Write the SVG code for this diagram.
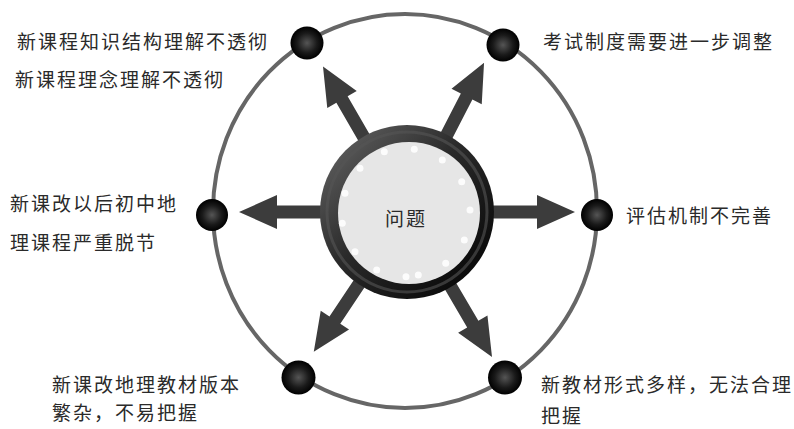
<svg xmlns="http://www.w3.org/2000/svg" width="794" height="429" viewBox="0 0 794 429">
<defs>
<radialGradient id="ball" cx="0.5" cy="0.5" r="0.5">
<stop offset="0" stop-color="#555"/>
<stop offset="0.6" stop-color="#1a1a1a"/>
<stop offset="1" stop-color="#000"/>
</radialGradient>
<linearGradient id="ring" x1="0" y1="0" x2="1" y2="1">
<stop offset="0" stop-color="#6a6a6a"/>
<stop offset="0.45" stop-color="#2a2a2a"/>
<stop offset="1" stop-color="#000"/>
</linearGradient>
<polygon id="arr" points="78,-6.5 130,-6.5 130,-17 168,0 130,17 130,6.5 78,6.5"/>
</defs>
<style>
.t{font-family:"Noto Sans CJK SC","Noto Sans CJK TC",sans-serif;font-size:19px;fill:#2a2a2a;letter-spacing:2px}
.node{fill:url(#ball)}
.arrow{fill:#3c3c3c}
.dot{fill:#fff;opacity:0.9}
</style>
<rect width="794" height="429" fill="#fff"/>
<ellipse cx="405" cy="211" rx="192" ry="197" fill="none" stroke="#666" stroke-width="4"/>
<g id="connectors" class="arrow">
<use href="#arr" transform="translate(407,212) rotate(-120)"/>
<use href="#arr" transform="translate(407,212) rotate(-62.7)"/>
<use href="#arr" transform="translate(407,212) rotate(180)"/>
<use href="#arr" transform="translate(407,212) rotate(0)"/>
<use href="#arr" transform="translate(407,212) rotate(123.7)"/>
<use href="#arr" transform="translate(407,212) rotate(59.6)"/>
</g>
<g id="center">
<circle cx="407" cy="212" r="87" fill="url(#ring)"/>
<circle cx="407" cy="212" r="80" fill="none" stroke="#555" stroke-width="3" opacity="0.6"/>
<circle cx="409" cy="213" r="71" fill="#e6e6e6"/>
<g class="dot">
<circle cx="384.3" cy="151.7" r="3.5"/><circle cx="414.3" cy="149.3" r="3.5"/><circle cx="442.3" cy="160" r="3.5"/>
<circle cx="461.7" cy="181.7" r="3.5"/><circle cx="470" cy="210" r="3.5"/><circle cx="464.3" cy="240" r="3.5"/>
<circle cx="445.7" cy="263.3" r="3.5"/><circle cx="418.3" cy="275" r="3.5"/><circle cx="406" cy="276.7" r="3.5"/>
<circle cx="376.7" cy="270" r="3.5"/><circle cx="355" cy="251.7" r="3.5"/><circle cx="342.3" cy="223.3" r="3.5"/>
<circle cx="345" cy="193.3" r="3.5"/><circle cx="360" cy="168.3" r="3.5"/>
</g>
<text class="t" x="406" y="226" text-anchor="middle">问题</text>
</g>
<g id="n1"><circle class="node" cx="307" cy="43" r="16.5"/>
<text class="t" x="17" y="49">新课程知识结构理解不透彻</text>
<text class="t" x="15" y="87">新课程理念理解不透彻</text></g>
<g id="n2"><circle class="node" cx="503" cy="45" r="16.5"/>
<text class="t" x="543" y="49">考试制度需要进一步调整</text></g>
<g id="n3"><circle class="node" cx="212" cy="215" r="16"/>
<text class="t" x="10" y="211">新课改以后初中地</text>
<text class="t" x="10" y="250">理课程严重脱节</text></g>
<g id="n4"><circle class="node" cx="597" cy="215" r="16"/>
<text class="t" x="626" y="223">评估机制不完善</text></g>
<g id="n5"><circle class="node" cx="298.5" cy="377.5" r="17"/>
<text class="t" x="52" y="392">新课改地理教材版本</text>
<text class="t" x="52" y="420">繁杂，不易把握</text></g>
<g id="n6"><circle class="node" cx="505" cy="377.5" r="17"/>
<text class="t" x="541" y="392">新教材形式多样，无法合理</text>
<text class="t" x="541" y="423">把握</text></g>
</svg>
